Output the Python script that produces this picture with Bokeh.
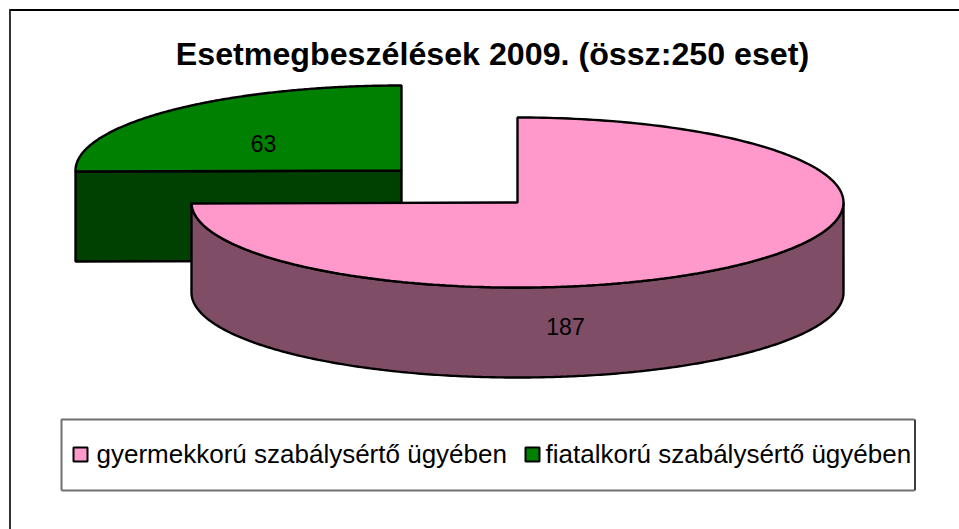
import numpy as np
from bokeh.plotting import figure
from bokeh.embed import file_html
from bokeh.resources import INLINE
from bokeh.core.properties import value

categories = ["gyermekkorú szabálysértő ügyében", "fiatalkorú szabálysértő ügyében"]
values = [187, 63]
title = "Esetmegbeszélések 2009. (össz:250 eset)"
top_colors = ["#FF99CC", "#008000"]
side_colors = ["#804D66", "#004000"]

FONT = value("Liberation Sans")
RX, RY, DEPTH = 326, 85, 90
CX, CY = 517, 202            # main slice centre
GX, GY = 401, 170            # exploded slice centre
EDGE = 2.4

p = figure(width=959, height=529, x_range=(0, 959), y_range=(529, 0),
           output_backend="svg", toolbar_location=None, min_border=0,
           background_fill_color="white", outline_line_color=None)
p.axis.visible = False
p.grid.visible = False

total = sum(values)
sweep = [v / total * 2 * np.pi for v in values]


def arc(cx, cy, a0, a1, n=240):
    t = np.linspace(a0, a1, n)
    return cx + RX * np.sin(t), cy - RY * np.cos(t)


# frame
p.line([9.5, 9.5], [529, 9], line_color="#333333", line_width=2)
p.line([9, 959], [9.5, 9.5], line_color="black", line_width=2)

# exploded (green) slice, drawn first
a0, a1 = sweep[0], 2 * np.pi
gx, gy = arc(GX, GY, a0, a1)
# cut face
p.patch([gx[0], GX, GX, gx[0]], [gy[0], GY, GY + DEPTH, gy[0] + DEPTH],
        fill_color=side_colors[1], line_color="black", line_width=EDGE)
p.patch(list(gx) + [GX], list(gy) + [GY], fill_color=top_colors[1],
        line_color="black", line_width=EDGE)

# main (pink) slice: visible wall, then top
t = np.linspace(np.pi / 2, 3 * np.pi / 2, 300)
wx, wy = CX + RX * np.sin(t), CY - RY * np.cos(t)
p.patch(list(wx) + list(wx[::-1]), list(wy) + list(wy[::-1] + DEPTH),
        fill_color=side_colors[0], line_color="black", line_width=EDGE)
mx, my = arc(CX, CY, 0, sweep[0])
p.patch(list(mx) + [CX], list(my) + [CY], fill_color=top_colors[0],
        line_color="black", line_width=EDGE)

# data labels
p.text([565], [326], text=[str(values[0])], text_font=FONT, text_font_size="23px",
       text_align="center", text_baseline="middle", text_color="black")
p.text([263], [143], text=[str(values[1])], text_font=FONT, text_font_size="23px",
       text_align="center", text_baseline="middle", text_color="black")

# title
p.text([492], [53], text=[title], text_font=FONT, text_font_size="32.2px",
       text_font_style="bold", text_align="center", text_baseline="middle",
       text_color="black")

# legend box
p.line([61, 61, 914], [490, 419, 419], line_color="#707070", line_width=2)
p.line([61, 914], [490, 490], line_color="#707070", line_width=2)
p.line([914.5, 914.5], [419, 490], line_color="black", line_width=1.5)

for sx, tx, c, lab in zip([73, 525], [96, 545], top_colors, categories):
    p.quad(left=[sx], right=[sx + 14], top=[447], bottom=[461],
           fill_color=c, line_color="black", line_width=2)
    p.text([tx], [453], text=[lab], text_font=FONT, text_font_size="26px",
           text_align="left", text_baseline="middle", text_color="black")

open("out.html", "w").write(file_html(p, INLINE))
